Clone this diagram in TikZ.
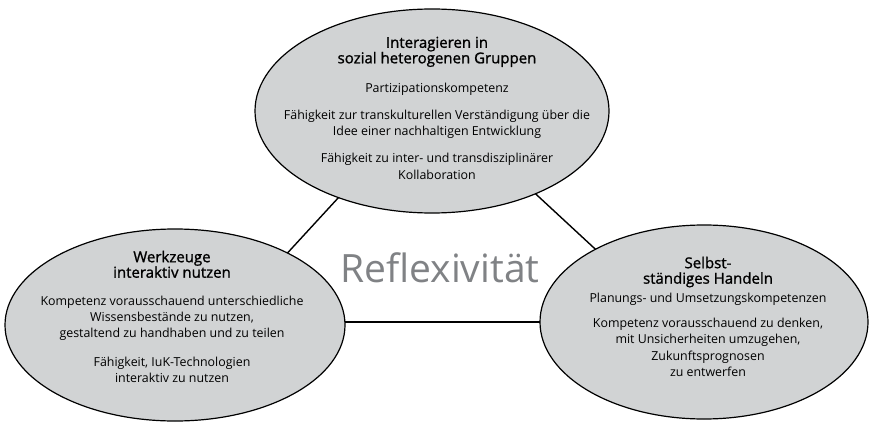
\documentclass[tikz,border=0pt]{standalone}
\usepackage{fontspec}
\setmainfont{Open Sans}
\newfontfamily\titlefont[FakeBold=1.2]{Open Sans}
\usetikzlibrary{shapes.geometric}
\definecolor{ellfill}{RGB}{209,211,212}
\definecolor{reflgray}{RGB}{128,130,133}
\begin{document}
\begin{tikzpicture}[x=1pt,y=-1pt,
  ell/.style={ellipse, draw=black, line width=1.2pt, fill=ellfill, inner sep=0pt},
  link/.style={line width=1.4pt, black},
  ttl/.style={font=\titlefont\fontsize{15}{15.5}\selectfont, align=center, inner sep=0pt, anchor=north},
  body/.style={font=\fontsize{12.4}{16.5}\selectfont, align=center, inner sep=0pt, anchor=north}]
\useasboundingbox (0,0) rectangle (869,422);
\coordinate (A) at (431,97);
\coordinate (BL) at (224,322);
\coordinate (BR) at (674,322);
\draw[link] (BL) -- (A) -- (BR);
\draw[link, line width=2pt] (BL) -- (BR);
\node[ell, minimum width=354pt, minimum height=204pt] (top) at (432,111) {};
\node[ell, minimum width=340pt, minimum height=192pt] (left) at (175,325) {};
\node[ell, minimum width=328pt, minimum height=194pt] (right) at (704,322) {};
\node[font=\fontsize{39}{39}\selectfont, text=reflgray, anchor=base, inner sep=0pt] (refl) at (440,282) {Reflexivität};
% top
\node[ttl] (toptitle) at (437,36.6) {Interagieren in\\sozial heterogenen Gruppen};
\node[body] (topbody) at (437,82.6) {Partizipationskompetenz\\[10.5pt]Fähigkeit zur transkulturellen Verständigung über die\\Idee einer nachhaltigen Entwicklung\\[10.5pt]Fähigkeit zu inter- und transdisziplinärer\\Kollaboration};
% left
\node[ttl] (lefttitle) at (172,250.6) {Werkzeuge\\interaktiv nutzen};
\node[body, font=\fontsize{12.4}{16}\selectfont] (leftbody) at (172,295.6) {Kompetenz vorausschauend unterschiedliche\\Wissensbestände zu nutzen,\\gestaltend zu handhaben und zu teilen\\[13pt]Fähigkeit, IuK-Technologien\\interaktiv zu nutzen};
% right
\node[ttl] (righttitle) at (708,256.6) {Selbst-\\ständiges Handeln};
\node[body] (rightbody) at (708,292.6) {Planungs- und Umsetzungskompetenzen\\[8.5pt]Kompetenz vorausschauend zu denken,\\mit Unsicherheiten umzugehen,\\Zukunftsprognosen\\zu entwerfen};
\end{tikzpicture}
\end{document}
